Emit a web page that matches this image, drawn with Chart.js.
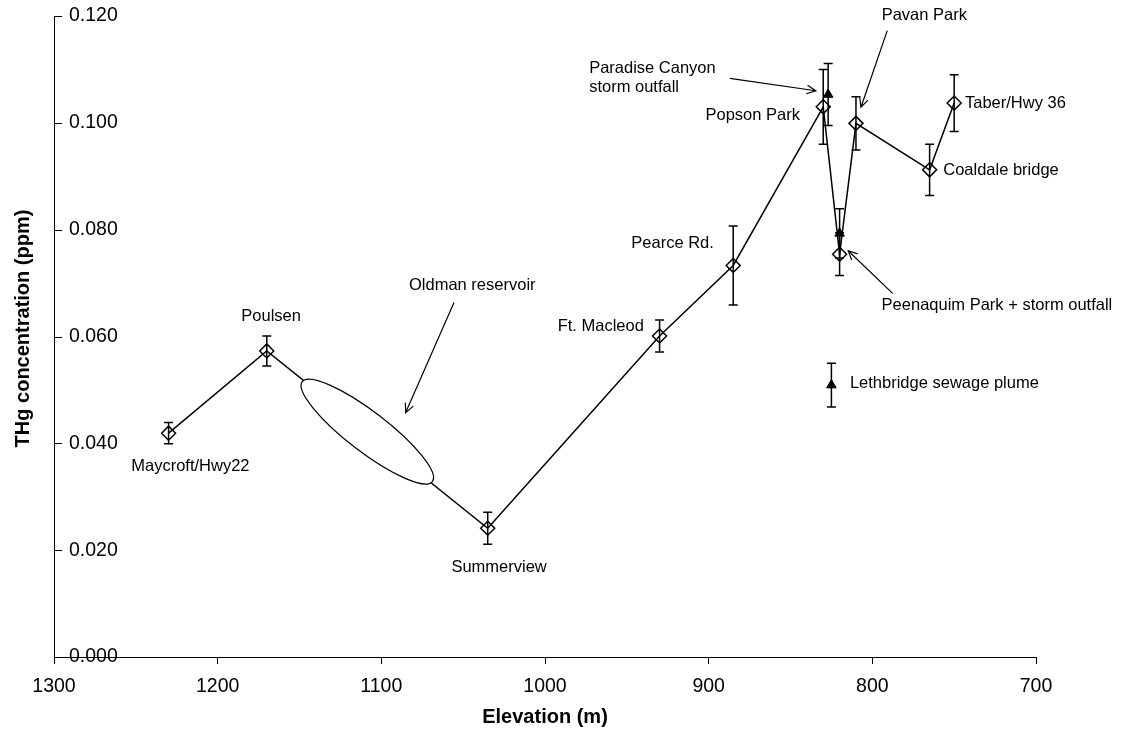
<!DOCTYPE html>
<html>
<head>
<meta charset="utf-8">
<title>THg concentration by elevation</title>
<script src="https://cdn.jsdelivr.net/npm/chart.js@4/dist/chart.umd.min.js"></script>
<style>
  html, body { margin: 0; padding: 0; background: #fff; }
  #chart { display: block; }
</style>
</head>
<body>
<canvas id="chart" width="1126" height="733"></canvas>
<script>
// River sampling sites, upstream to downstream (joined by the line)
const siteNames = ['Maycroft/Hwy22', 'Poulsen', 'Summerview', 'Ft. Macleod', 'Pearce Rd.',
  'Popson Park', 'Peenaquim Park', 'Pavan Park', 'Coaldale bridge', 'Taber/Hwy 36'];
const siteElevation = [1230, 1170, 1035, 930, 885, 830, 820, 810, 765, 750];
const siteThg = [0.0419, 0.0573, 0.0241, 0.0601, 0.0733, 0.1030, 0.0754, 0.0999, 0.0912, 0.1037];
const siteThgErr = [0.0020, 0.0028, 0.0030, 0.0030, 0.0074, 0.0070, 0.0040, 0.0050, 0.0048, 0.0053];

// Storm outfalls and the sewage plume (markers only)
const outfallNames = ['Paradise Canyon storm outfall', 'Peenaquim storm outfall', 'Lethbridge sewage plume'];
const outfallElevation = [827, 820, 825];
const outfallThg = [0.1053, 0.0793, 0.0509];
const outfallThgErr = [0.0058, 0.0046, 0.0041];

// Axis ticks
const elevationTicks = [1300, 1200, 1100, 1000, 900, 800, 700];
const thgTicks = [0.000, 0.020, 0.040, 0.060, 0.080, 0.100, 0.120];

const FONT = '"Liberation Sans", Arial, Helvetica, sans-serif';
const LABEL_FONT = '16.5px ' + FONT;

// Text callouts, placed relative to the mark they describe (offsets in px)
const callouts = [
  { text: ['Maycroft/Hwy22'], on: 'site', i: 0, dx: -37.3, dy: 32.8 },
  { text: ['Poulsen'], on: 'site', i: 1, dx: -25.5, dy: -34.2 },
  { text: ['Summerview'], on: 'site', i: 2, dx: -36.3, dy: 39 },
  { text: ['Ft. Macleod'], on: 'site', i: 3, dx: -15.7, dy: -10, align: 'right' },
  { text: ['Pearce Rd.'], on: 'site', i: 4, dx: -19.4, dy: -22.2, align: 'right' },
  { text: ['Popson Park'], on: 'site', i: 5, dx: -23.3, dy: 8.9, align: 'right' },
  { text: ['Peenaquim Park + storm outfall'], on: 'site', i: 6, dx: 42, dy: 50.8,
    arrow: [53, 39.1, 8.6, -3.5] },
  { text: ['Pavan Park'], on: 'site', i: 7, dx: 25.7, dy: -108.4,
    arrow: [31.3, -92.7, 5, -16.1] },
  { text: ['Coaldale bridge'], on: 'site', i: 8, dx: 13.6, dy: 0.9 },
  { text: ['Taber/Hwy 36'], on: 'site', i: 9, dx: 10.8, dy: 0.2 },
  { text: ['Paradise Canyon', 'storm outfall'], on: 'outfall', i: 0, dx: -239, dy: -26.2,
    arrow: [-98.3, -16.2, -12.3, -3.8] },
  { text: ['Lethbridge sewage plume'], on: 'outfall', i: 2, dx: 18.5, dy: -1.8 },
  { text: ['Oldman reservoir'], on: 'reservoir', dx: 41.7, dy: -146.2,
    arrow: [86.7, -129, 38.4, -19] }
];

// Reservoir outline: sits on the Poulsen–Summerview segment
const reservoir = { from: 1, to: 2, t: 0.455, rx: 82, ry: 20, angleDeg: 37.5 };

function arrowTo(ctx, x1, y1, x2, y2) {
  const a = Math.atan2(y2 - y1, x2 - x1);
  const len = 10, spread = Math.PI / 7;
  ctx.beginPath();
  ctx.moveTo(x1, y1);
  ctx.lineTo(x2, y2);
  ctx.moveTo(x2 - len * Math.cos(a - spread), y2 - len * Math.sin(a - spread));
  ctx.lineTo(x2, y2);
  ctx.lineTo(x2 - len * Math.cos(a + spread), y2 - len * Math.sin(a + spread));
  ctx.stroke();
}

const annotate = {
  id: 'annotate',
  beforeDatasetsDraw(chart) {
    const { ctx, scales: { x, y } } = chart;
    const cap = 4.5;
    ctx.save();
    ctx.strokeStyle = '#000';
    ctx.lineWidth = 1.5;
    const bar = (e, v, err) => {
      const px = x.getPixelForValue(e);
      const top = y.getPixelForValue(v + err);
      const bot = y.getPixelForValue(v - err);
      ctx.beginPath();
      ctx.moveTo(px, top); ctx.lineTo(px, bot);
      ctx.moveTo(px - cap, top); ctx.lineTo(px + cap, top);
      ctx.moveTo(px - cap, bot); ctx.lineTo(px + cap, bot);
      ctx.stroke();
    };
    siteElevation.forEach((e, i) => bar(e, siteThg[i], siteThgErr[i]));
    outfallElevation.forEach((e, i) => bar(e, outfallThg[i], outfallThgErr[i]));
    ctx.restore();
  },
  afterDatasetsDraw(chart) {
    const { ctx, scales: { x, y }, chartArea } = chart;
    ctx.save();

    // reservoir ellipse, covering the line where the river is impounded
    const p0 = { x: x.getPixelForValue(siteElevation[reservoir.from]), y: y.getPixelForValue(siteThg[reservoir.from]) };
    const p1 = { x: x.getPixelForValue(siteElevation[reservoir.to]), y: y.getPixelForValue(siteThg[reservoir.to]) };
    const rc = { x: p0.x + (p1.x - p0.x) * reservoir.t, y: p0.y + (p1.y - p0.y) * reservoir.t };
    ctx.beginPath();
    ctx.ellipse(rc.x, rc.y, reservoir.rx, reservoir.ry, reservoir.angleDeg * Math.PI / 180, 0, Math.PI * 2);
    ctx.fillStyle = '#fff';
    ctx.fill();
    ctx.strokeStyle = '#000';
    ctx.lineWidth = 1.2;
    ctx.stroke();

    // y tick marks point into the plot
    ctx.lineWidth = 1;
    ctx.beginPath();
    thgTicks.forEach(v => {
      const py = Math.round(y.getPixelForValue(v)) + 0.5;
      ctx.moveTo(chartArea.left, py);
      ctx.lineTo(chartArea.left + 8, py);
    });
    ctx.stroke();

    // callouts
    ctx.fillStyle = '#000';
    ctx.font = LABEL_FONT;
    ctx.textBaseline = 'middle';
    ctx.lineWidth = 1.2;
    callouts.forEach(c => {
      let ax, ay;
      if (c.on === 'site') { ax = x.getPixelForValue(siteElevation[c.i]); ay = y.getPixelForValue(siteThg[c.i]); }
      else if (c.on === 'outfall') { ax = x.getPixelForValue(outfallElevation[c.i]); ay = y.getPixelForValue(outfallThg[c.i]); }
      else { ax = rc.x; ay = rc.y; }
      ctx.textAlign = c.align || 'left';
      c.text.forEach((line, k) => ctx.fillText(line, ax + c.dx, ay + c.dy + k * 19.4));
      if (c.arrow) {
        const [x1, y1, x2, y2] = c.arrow;
        arrowTo(ctx, ax + x1, ay + y1, ax + x2, ay + y2);
      }
    });

    // y axis title
    ctx.translate(23, 328.5);
    ctx.rotate(-Math.PI / 2);
    ctx.font = 'bold 20px ' + FONT;
    ctx.textAlign = 'center';
    ctx.textBaseline = 'middle';
    ctx.fillText('THg concentration (ppm)', 0, 0);
    ctx.restore();
  }
};

new Chart(document.getElementById('chart'), {
  type: 'scatter',
  data: {
    datasets: [
      {
        label: 'River sites',
        data: siteElevation.map((e, i) => ({ x: e, y: siteThg[i] })),
        showLine: true,
        borderColor: '#000',
        borderWidth: 1.5,
        pointStyle: 'rectRot',
        pointRadius: 7,
        pointBackgroundColor: 'rgba(0,0,0,0)',
        pointBorderColor: '#000',
        pointBorderWidth: 1.5,
        tension: 0
      },
      {
        label: 'Outfalls',
        data: outfallElevation.map((e, i) => ({ x: e, y: outfallThg[i] })),
        showLine: false,
        pointStyle: 'triangle',
        pointRadius: 5.5,
        pointBackgroundColor: '#000',
        pointBorderColor: '#000',
        pointBorderWidth: 1
      }
    ]
  },
  options: {
    responsive: false,
    animation: false,
    devicePixelRatio: 1,
    events: [],
    layout: { padding: { top: 16, right: 90, bottom: 0, left: 0 } },
    plugins: { legend: { display: false }, tooltip: { enabled: false } },
    scales: {
      x: {
        type: 'linear',
        reverse: true,
        min: Math.min(...elevationTicks),
        max: Math.max(...elevationTicks),
        afterBuildTicks: s => { s.ticks = elevationTicks.map(v => ({ value: v })); },
        afterFit: s => { s.height = 76; },
        ticks: { color: '#000', font: { family: FONT, size: 19.5 }, padding: 11, maxRotation: 0, autoSkip: false,
          callback: v => String(v) },
        grid: { drawOnChartArea: false, color: '#000', tickLength: 7, tickWidth: 1 },
        border: { color: '#000', width: 1 },
        title: { display: true, text: 'Elevation (m)', color: '#000',
          font: { family: FONT, size: 20, weight: 'bold' }, padding: { top: 0, bottom: 4 } }
      },
      y: {
        type: 'linear',
        min: Math.min(...thgTicks),
        max: Math.max(...thgTicks),
        afterBuildTicks: s => { s.ticks = thgTicks.map(v => ({ value: v })); },
        afterFit: s => { s.width = 54; s.paddingTop = 0; s.paddingBottom = 0; },
        ticks: { mirror: true, padding: 15, color: '#000', font: { family: FONT, size: 19.5 },
          callback: v => Number(v).toFixed(3) },
        grid: { display: false, drawTicks: false },
        border: { color: '#000', width: 1 }
      }
    }
  },
  plugins: [annotate]
});
</script>
</body>
</html>
